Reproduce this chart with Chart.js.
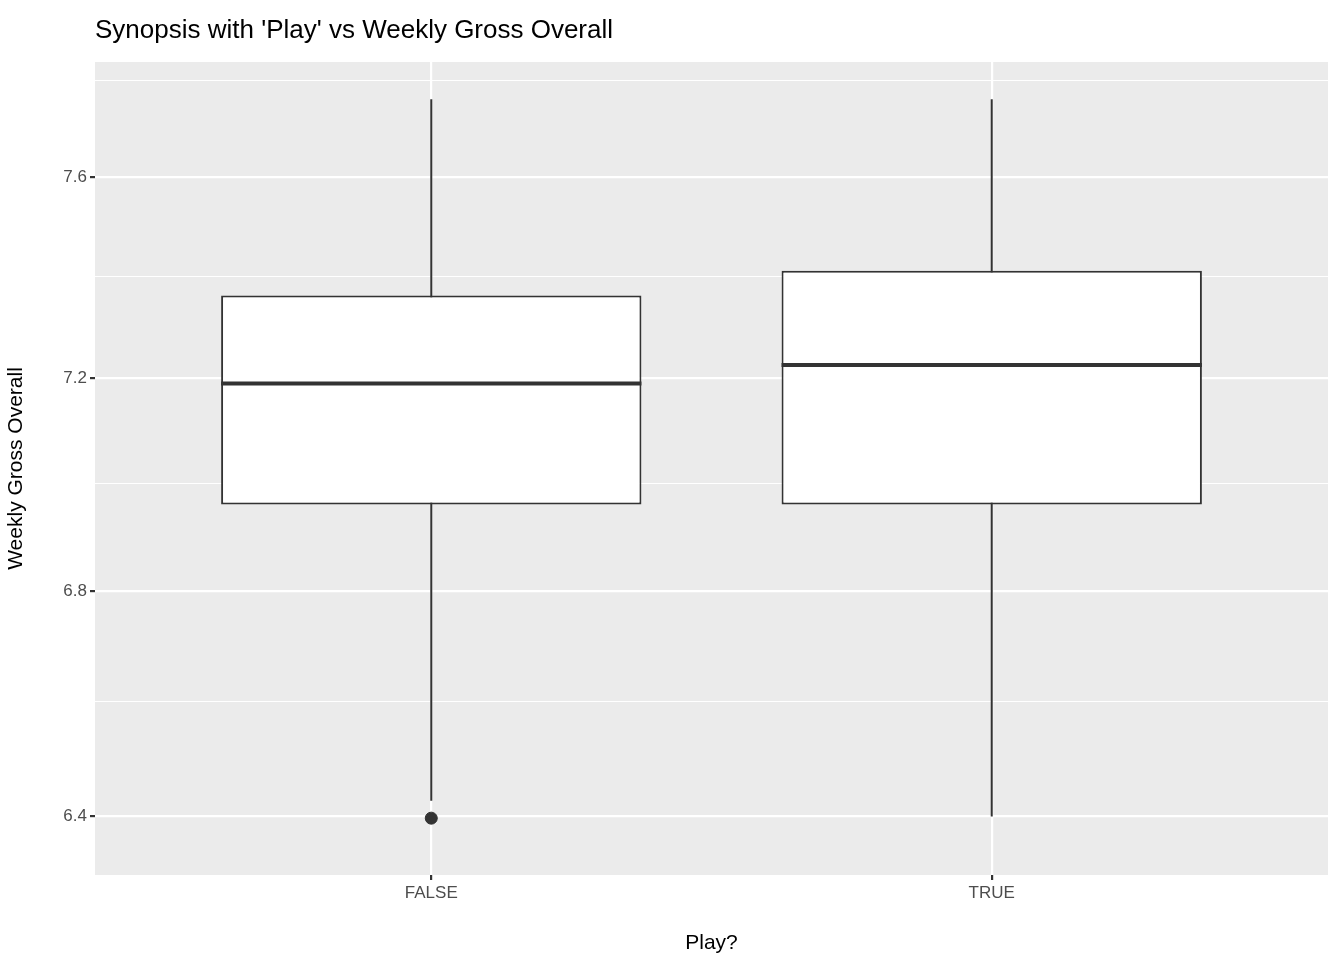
<!DOCTYPE html>
<html><head><meta charset="utf-8">
<script src="https://cdn.jsdelivr.net/npm/chart.js@4/dist/chart.umd.min.js"></script>
<style>html,body{margin:0;background:#fff}#c{display:block}</style>
</head><body>
<div style="width:1344px;height:960px"><canvas id="c"></canvas></div>
<script>
// box stats (log-scaled y axis)
const groups=['FALSE','TRUE'];
const lowW=[6.427,6.40];
const q1=[6.960,6.960];
const med=[7.19,7.226];
const q3=[7.362,7.411];
const highW=[7.761,7.761];
const outliers=[{x:1,y:6.397}];
const yTicks=[6.4,6.6,6.8,7.0,7.2,7.4,7.6,7.8];
const yMajor=[6.4,6.8,7.2,7.6];
const isMajor=v=>yMajor.some(m=>Math.abs(m-v)<1e-6);

const boxPlugin={
  id:'boxParts',
  beforeDraw(ch){
    const a=ch.chartArea,c=ch.ctx;
    c.save();c.fillStyle='#ebebeb';c.fillRect(a.left,a.top,a.right-a.left,a.bottom-a.top);
    c.fillStyle='#000';c.font='26px "Liberation Sans", Arial, sans-serif';c.textBaseline='alphabetic';
    c.fillText("Synopsis with 'Play' vs Weekly Gross Overall",95,38);c.restore();
  },
  beforeDatasetsDraw(ch){
    const x=ch.scales.x,y=ch.scales.y,c=ch.ctx;
    c.save();c.strokeStyle='#333';c.lineWidth=2;
    groups.forEach((g,i)=>{const px=x.getPixelForValue(i+1);
      c.beginPath();c.moveTo(px,y.getPixelForValue(lowW[i]));c.lineTo(px,y.getPixelForValue(highW[i]));c.stroke();});
    c.restore();
  },
  afterDatasetsDraw(ch){
    const x=ch.scales.x,y=ch.scales.y,c=ch.ctx;
    const half=(x.getPixelForValue(1.375)-x.getPixelForValue(1));
    c.save();c.strokeStyle='#333';c.lineWidth=4;
    groups.forEach((g,i)=>{const px=x.getPixelForValue(i+1),py=y.getPixelForValue(med[i]);
      c.beginPath();c.moveTo(px-half,py);c.lineTo(px+half,py);c.stroke();});
    c.restore();
  }
};

new Chart(document.getElementById('c'),{
  data:{datasets:[
    {type:'bar',data:groups.map((g,i)=>({x:i+1,y:[q1[i],q3[i]]})),backgroundColor:'#fff',borderColor:'#333',borderWidth:2,borderSkipped:false,grouped:false,barPercentage:0.75,categoryPercentage:1},
    {type:'scatter',data:outliers,backgroundColor:'#333',borderColor:'#333',pointRadius:6}
  ]},
  options:{responsive:true,maintainAspectRatio:false,animation:false,
    layout:{padding:{top:62,right:16,left:0,bottom:0}},
    plugins:{legend:{display:false},tooltip:{enabled:false}},
    scales:{
      x:{type:'linear',min:0.4,max:2.6,offset:false,
        afterDataLimits:s=>{s.min=0.4;s.max=2.6;},
        afterBuildTicks:s=>{s.ticks=[{value:1},{value:2}];},
        afterFit:s=>{s.height=85;},
        ticks:{color:'#4d4d4d',font:{size:17,family:'"Liberation Sans", Arial'},callback:v=>groups[v-1]||''},
        grid:{color:'#fff',lineWidth:2.2,tickLength:5,tickColor:'#333',offset:false},border:{display:false},
        title:{display:true,text:'Play?',color:'#000',font:{size:21,family:'"Liberation Sans", Arial'},padding:{top:4}}},
      y:{type:'logarithmic',min:6.335,max:7.839,
        afterDataLimits:s=>{s.min=6.335;s.max=7.839;},
        afterBuildTicks:s=>{s.ticks=yTicks.map(v=>({value:v}));},
        afterFit:s=>{s.width=95;},
        ticks:{color:'#4d4d4d',font:{size:17,family:'"Liberation Sans", Arial'},autoSkip:false,
          callback:v=>isMajor(v)?v.toFixed(1):''},
        grid:{color:'#fff',tickColor:ctx=>isMajor(ctx.tick.value)?'#333':'rgba(0,0,0,0)',
          lineWidth:ctx=>isMajor(ctx.tick.value)?2.2:1.1,tickLength:5},
        border:{display:false},
        title:{display:true,text:'Weekly Gross Overall',color:'#000',font:{size:21,family:'"Liberation Sans", Arial'},padding:{bottom:4}}}
    }},
  plugins:[boxPlugin]
});
</script>
</body></html>
